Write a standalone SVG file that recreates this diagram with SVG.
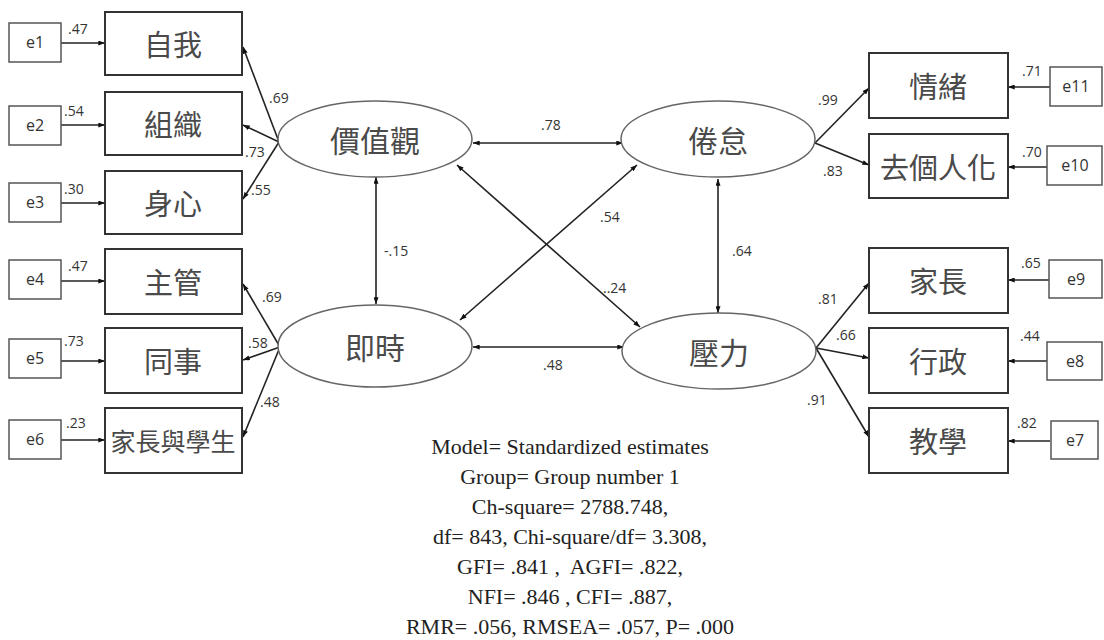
<svg xmlns="http://www.w3.org/2000/svg" width="1104" height="640" viewBox="0 0 1104 640">
<style>
.bg{fill:#ffffff}
.ind{fill:#ffffff;stroke:#333;stroke-width:2}
.err{fill:#ffffff;stroke:#555;stroke-width:1.5}
.lat{fill:#ffffff;stroke:#666;stroke-width:1.5}
.cn{font-family:"Noto Sans CJK TC","Noto Sans CJK SC",sans-serif;font-size:29px;fill:#4a4a4a;text-anchor:middle;dominant-baseline:central}
.lt{font-family:"Noto Sans CJK TC","Noto Sans CJK SC",sans-serif;font-size:30px;fill:#4a4a4a;text-anchor:middle;dominant-baseline:central}
.e{font-family:"Open Sans","Liberation Sans",sans-serif;font-size:16px;fill:#333;text-anchor:middle;dominant-baseline:central}
.n{font-family:"Open Sans","Liberation Sans",sans-serif;font-size:14px;fill:#333}
.con line{stroke:#222;stroke-width:1.6;fill:none}
.one{marker-end:url(#ah)}
.two{marker-end:url(#ah);marker-start:url(#ah)}
.fit{font-family:"Liberation Serif","Times New Roman",serif;font-size:22px;fill:#222;text-anchor:middle}
</style>
<defs>
<marker id="ah" viewBox="0 0 8 6" refX="8" refY="3" markerWidth="7" markerHeight="5" markerUnits="userSpaceOnUse" orient="auto-start-reverse">
<path d="M0,0 L8,3 L0,6 z" fill="#111"/>
</marker>
</defs>
<rect class="bg" x="0" y="0" width="1104" height="640"/>

<g id="connectors" class="con">
<line class="one" x1="61" y1="43" x2="105" y2="43"/>
<line class="one" x1="61" y1="125" x2="105" y2="125"/>
<line class="one" x1="61" y1="203" x2="105" y2="203"/>
<line class="one" x1="61" y1="281" x2="105" y2="281"/>
<line class="one" x1="61" y1="361" x2="105" y2="361"/>
<line class="one" x1="61" y1="440" x2="105" y2="440"/>
<line class="one" x1="1050" y1="87" x2="1008" y2="87"/>
<line class="one" x1="1050" y1="167" x2="1008" y2="167"/>
<line class="one" x1="1050" y1="280" x2="1008" y2="280"/>
<line class="one" x1="1050" y1="361" x2="1008" y2="361"/>
<line class="one" x1="1050" y1="441" x2="1008" y2="441"/>
<line class="one" x1="279" y1="142" x2="243" y2="47"/>
<line class="one" x1="279" y1="142" x2="243" y2="125"/>
<line class="one" x1="279" y1="142" x2="243" y2="199"/>
<line class="one" x1="280" y1="347" x2="243" y2="284"/>
<line class="one" x1="280" y1="347" x2="243" y2="360"/>
<line class="one" x1="280" y1="347" x2="243" y2="437"/>
<line class="one" x1="815" y1="143" x2="869" y2="88"/>
<line class="one" x1="815" y1="143" x2="869" y2="165"/>
<line class="one" x1="816" y1="348" x2="869" y2="283"/>
<line class="one" x1="816" y1="348" x2="869" y2="358"/>
<line class="one" x1="816" y1="348" x2="869" y2="437"/>
<line class="two" x1="473" y1="143" x2="623" y2="143"/>
<line class="two" x1="473" y1="347" x2="624" y2="347"/>
<line class="two" x1="376" y1="177" x2="376" y2="304"/>
<line class="two" x1="718" y1="179" x2="718" y2="313"/>
<line class="two" x1="457" y1="165" x2="640" y2="327"/>
<line class="two" x1="460" y1="320" x2="637" y2="165"/>
</g>

<g id="labels">
<text class="n" x="68" y="34">.47</text>
<text class="n" x="64" y="116">.54</text>
<text class="n" x="64" y="194">.30</text>
<text class="n" x="68" y="271">.47</text>
<text class="n" x="64" y="346">.73</text>
<text class="n" x="66" y="428">.23</text>
<text class="n" x="269" y="103">.69</text>
<text class="n" x="245" y="157">.73</text>
<text class="n" x="251" y="195">.55</text>
<text class="n" x="262" y="302">.69</text>
<text class="n" x="248" y="348">.58</text>
<text class="n" x="260" y="407">.48</text>
<text class="n" x="818" y="105">.99</text>
<text class="n" x="823" y="176">.83</text>
<text class="n" x="818" y="304">.81</text>
<text class="n" x="836" y="340">.66</text>
<text class="n" x="807" y="405">.91</text>
<text class="n" x="1022" y="76">.71</text>
<text class="n" x="1022" y="157">.70</text>
<text class="n" x="1021" y="268">.65</text>
<text class="n" x="1020" y="341">.44</text>
<text class="n" x="1017" y="428">.82</text>
<text class="n" x="541" y="130">.78</text>
<text class="n" x="384" y="256">-.15</text>
<text class="n" x="600" y="222">.54</text>
<text class="n" x="732" y="256">.64</text>
<text class="n" x="603" y="293">..24</text>
<text class="n" x="543" y="370">.48</text>
</g>

<g id="e1"><rect class="err" x="9" y="23" width="52" height="39"/><text class="e" x="35" y="42">e1</text></g>
<g id="e2"><rect class="err" x="9" y="106" width="52" height="39"/><text class="e" x="35" y="125">e2</text></g>
<g id="e3"><rect class="err" x="9" y="183" width="52" height="39"/><text class="e" x="35" y="202">e3</text></g>
<g id="e4"><rect class="err" x="9" y="260" width="52" height="39"/><text class="e" x="35" y="279">e4</text></g>
<g id="e5"><rect class="err" x="9" y="339" width="52" height="39"/><text class="e" x="35" y="358">e5</text></g>
<g id="e6"><rect class="err" x="9" y="420" width="52" height="39"/><text class="e" x="35" y="439">e6</text></g>

<g id="n-self"><rect class="ind" x="105" y="12" width="137" height="63"/><text class="cn" x="173" y="43">自我</text></g>
<g id="n-org"><rect class="ind" x="105" y="92" width="137" height="63"/><text class="cn" x="173" y="123">組織</text></g>
<g id="n-body"><rect class="ind" x="105" y="171" width="137" height="63"/><text class="cn" x="173" y="202">身心</text></g>
<g id="n-boss"><rect class="ind" x="105" y="249" width="137" height="65"/><text class="cn" x="173" y="281">主管</text></g>
<g id="n-coll"><rect class="ind" x="105" y="328" width="137" height="65"/><text class="cn" x="173" y="360">同事</text></g>
<g id="n-par"><rect class="ind" x="105" y="408" width="137" height="65"/><text class="cn" x="173" y="440" style="font-size:25px">家長與學生</text></g>

<g id="l-value"><ellipse class="lat" cx="375" cy="139" rx="97" ry="38"/><text class="lt" x="375" y="139">價值觀</text></g>
<g id="l-now"><ellipse class="lat" cx="375" cy="346" rx="97" ry="41"/><text class="lt" x="375" y="346">即時</text></g>
<g id="l-burn"><ellipse class="lat" cx="718" cy="139" rx="97" ry="38"/><text class="lt" x="718" y="139">倦怠</text></g>
<g id="l-stress"><ellipse class="lat" cx="719" cy="351" rx="97" ry="38"/><text class="lt" x="719" y="351">壓力</text></g>

<g id="n-emo"><rect class="ind" x="869" y="53" width="139" height="65"/><text class="cn" x="938" y="85">情緒</text></g>
<g id="n-dep"><rect class="ind" x="869" y="134" width="139" height="64"/><text class="cn" x="938" y="166">去個人化</text></g>
<g id="n-parent"><rect class="ind" x="869" y="248" width="139" height="65"/><text class="cn" x="938" y="280">家長</text></g>
<g id="n-admin"><rect class="ind" x="869" y="328" width="139" height="65"/><text class="cn" x="938" y="360">行政</text></g>
<g id="n-teach"><rect class="ind" x="869" y="408" width="139" height="65"/><text class="cn" x="938" y="440">教學</text></g>

<g id="e11"><rect class="err" x="1050" y="67" width="52" height="39"/><text class="e" x="1076" y="86">e11</text></g>
<g id="e10"><rect class="err" x="1047" y="146" width="55" height="39"/><text class="e" x="1075" y="165">e10</text></g>
<g id="e9"><rect class="err" x="1049" y="260" width="53" height="38"/><text class="e" x="1076" y="279">e9</text></g>
<g id="e8"><rect class="err" x="1047" y="342" width="55" height="38"/><text class="e" x="1075" y="361">e8</text></g>
<g id="e7"><rect class="err" x="1051" y="421" width="47" height="38"/><text class="e" x="1075" y="440">e7</text></g>

<g id="fit">
<text class="fit" x="570" y="454">Model= Standardized estimates</text>
<text class="fit" x="570" y="484">Group= Group number 1</text>
<text class="fit" x="570" y="514">Ch-square= 2788.748,</text>
<text class="fit" x="570" y="544">df= 843, Chi-square/df= 3.308,</text>
<text class="fit" x="570" y="574">GFI= .841 ,&#160; AGFI= .822,</text>
<text class="fit" x="570" y="604">NFI= .846 , CFI= .887,</text>
<text class="fit" x="570" y="634">RMR= .056, RMSEA= .057, P= .000</text>
</g>
</svg>
